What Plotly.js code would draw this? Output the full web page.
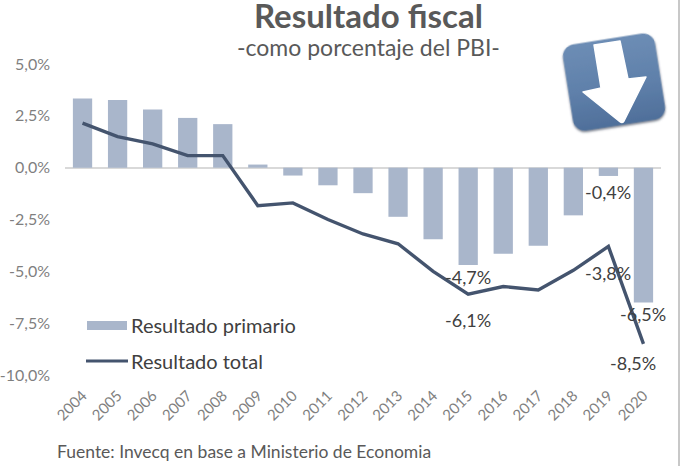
<!DOCTYPE html>
<html><head><meta charset="utf-8">
<script src="https://cdn.plot.ly/plotly-3.0.1.min.js"></script>
<style>html,body{margin:0;padding:0;background:#fff}</style></head>
<body><div id="chart" style="width:680px;height:466px"></div>
<script>
const years = ['2004','2005','2006','2007','2008','2009','2010','2011','2012','2013','2014','2015','2016','2017','2018','2019','2020'];
const primario = [3.33,3.26,2.8,2.4,2.1,0.15,-0.38,-0.85,-1.23,-2.37,-3.45,-4.7,-4.15,-3.77,-2.3,-0.4,-6.5];
const total = [2.15,1.5,1.15,0.58,0.58,-1.83,-1.7,-2.5,-3.2,-3.67,-5.0,-6.1,-5.73,-5.9,-4.95,-3.8,-8.5];
const yTicks = [5,2.5,0,-2.5,-5,-7.5,-10];
const yTickText = ['5,0%','2,5%','0,0%','-2,5%','-5,0%','-7,5%','-10,0%'];
const labelYears = ['2015','2019','2020','2015','2019','2020'];
const labelValues = [-4.7,-0.4,-6.5,-6.1,-3.8,-8.5];
const labelTexts = ['-4,7%','-0,4%','-6,5%','-6,1%','-3,8%','-8,5%'];
const font = 'Lato, "Open Sans", sans-serif';
const labelDy = [12,16,11.5,26,27,19];
const labelDx = [0,0,0,0,0,-10];
const Y = px => (375-px)/311, X = px => (px-65)/596;
const icon = "data:image/svg+xml," + encodeURIComponent(
`<svg xmlns="http://www.w3.org/2000/svg" width="108" height="108" viewBox="0 0 108 108">
<defs><linearGradient id="g" x1="0" y1="0" x2="0" y2="1"><stop offset="0" stop-color="#6d8db5"/><stop offset="0.55" stop-color="#5f80aa"/><stop offset="1" stop-color="#4f6f9a"/></linearGradient>
<filter id="s" x="-20%" y="-20%" width="140%" height="140%"><feDropShadow dx="0" dy="1.5" stdDeviation="1" flood-color="#26344a" flood-opacity="0.7"/></filter></defs>
<g transform="rotate(-9 54 53)"><rect x="7.5" y="9.5" width="93" height="87" rx="12" fill="url(#g)" filter="url(#s)"/></g>
<path d="M34 16 L60 12 L68 50 L86 48 L64 92 Q62 95 59 92 L23 63 L41 59 Z" fill="#ffffff" stroke="#ffffff" stroke-width="1.5" stroke-linejoin="round"/>
</svg>`);
const data = [
  {type:'bar',x:years,y:primario,name:'Resultado primario',marker:{color:'#a9b6cb'},width:0.55,showlegend:false,hoverinfo:'skip'},
  {type:'scatter',mode:'lines',x:years,y:total,name:'Resultado total',line:{color:'#44546e',width:3.4},showlegend:false,hoverinfo:'skip'}
];
const ann = labelTexts.map((t,i)=>({x:years.indexOf(labelYears[i]),y:labelValues[i],xref:'x',yref:'y',text:t,showarrow:false,xanchor:'center',yanchor:'middle',yshift:-labelDy[i],xshift:labelDx[i],font:{family:font,size:18,color:'#404040'}}));
const fixed = (x,y,text,size,color,xanchor) => ({xref:'paper',yref:'paper',x:X(x),y:Y(y),text,showarrow:false,xanchor,yanchor:'middle',font:{family:font,size,color}});
ann.push(
 fixed(368,15,'<b>Resultado fiscal</b>',33,'#595959','center'),
 fixed(368,47,'-como porcentaje del PBI-',23,'#595959','center'),
 fixed(129,325,'Resultado primario',20,'#404040','left'),
 fixed(129,361,'Resultado total',20,'#404040','left'),
 fixed(55,451,'Fuente: Invecq en base a Ministerio de Economia',17.5,'#595959','left')
);
const layout = {
  width:680,height:466,margin:{l:65,r:19,t:64,b:91},paper_bgcolor:'#fff',plot_bgcolor:'#fff',
  xaxis:{type:'category',range:[-0.5,16.5],showgrid:false,showline:false,zeroline:false,tickangle:-45,ticks:'',ticklabelstandoff:8,tickfont:{family:font,size:15,color:'#7f7f7f'},automargin:false},
  yaxis:{range:[-10,5],tickvals:yTicks,ticktext:yTickText,showgrid:false,showline:false,zeroline:true,zerolinecolor:'#d9d9d9',zerolinewidth:2,ticks:'',ticklabelstandoff:14,tickfont:{family:font,size:16,color:'#7f7f7f'},automargin:false},
  annotations:ann,
  shapes:[
    {type:'rect',xref:'paper',yref:'paper',x0:X(87),x1:X(127),y0:Y(330),y1:Y(321),fillcolor:'#a9b6cb',line:{width:0}},
    {type:'line',xref:'paper',yref:'paper',x0:X(86),x1:X(128),y0:Y(361),y1:Y(361),line:{color:'#44546e',width:3}},
    {type:'line',xref:'paper',yref:'paper',x0:X(679),x1:X(679),y0:Y(466),y1:Y(0),line:{color:'#c8c8c8',width:2}}
  ],
  images:[{source:icon,xref:'paper',yref:'paper',x:X(560),y:Y(29),sizex:108/596,sizey:108/311,xanchor:'left',yanchor:'top',sizing:'stretch',layer:'above'}]
};
Plotly.newPlot('chart',data,layout,{displayModeBar:false,staticPlot:true});
</script></body></html>
